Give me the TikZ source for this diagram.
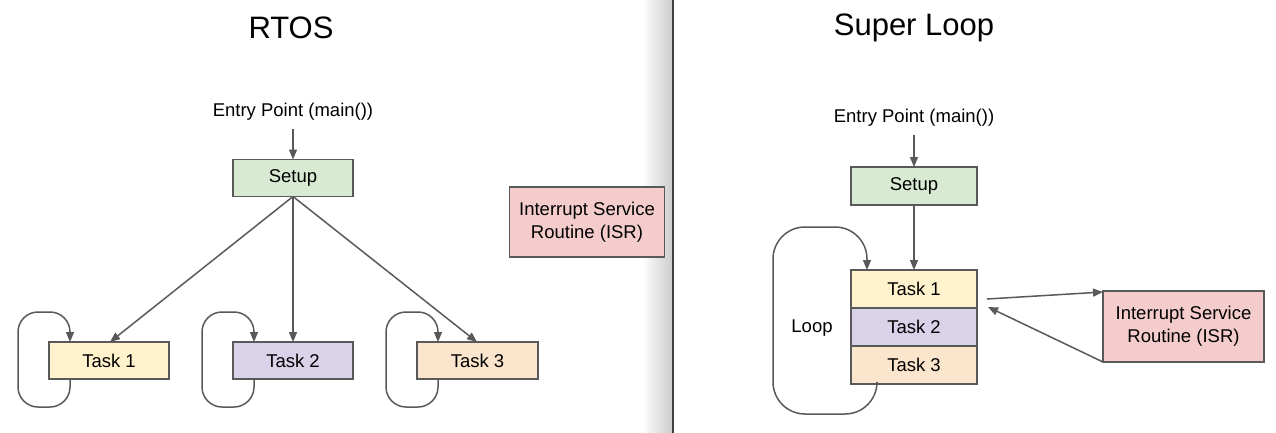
\documentclass[tikz,border=0pt]{standalone}
\usepackage{fontspec}
\setmainfont{Liberation Sans}
\usetikzlibrary{arrows.meta,calc}
\definecolor{edge}{HTML}{595959}
\definecolor{cgreen}{HTML}{D9EAD3}
\definecolor{cyellow}{HTML}{FFF2CC}
\definecolor{cpurple}{HTML}{D9D2E9}
\definecolor{corange}{HTML}{FCE5CD}
\definecolor{cpink}{HTML}{F4CCCC}
\begin{document}
\begin{tikzpicture}[x={(1pt,0)},y={(0,-1pt)},
  box/.style={draw=edge,line width=1.6pt,inner sep=0pt,outer sep=0pt,
    minimum width=120pt,minimum height=37pt,font=\fontsize{18.5}{23}\selectfont,align=center},
  plain/.style={inner sep=0pt,font=\fontsize{18.5}{23}\selectfont},
  ttl/.style={inner sep=0pt,font=\fontsize{31}{35}\selectfont},
  arr/.style={draw=edge,line width=1.5pt,-{Triangle[length=10pt,width=8pt]}},
  looparr/.style={arr,rounded corners=20pt}]
\useasboundingbox (0,0) rectangle (1276,433);
% divider with shadow
\shade[left color=white,right color=black!20] (642,0) rectangle (672,433);
\draw[line width=2pt,black!75] (673,0) -- (673,433);

% ---------- RTOS ----------
\node[ttl] (t1) at (291,28) {RTOS};
\node[plain] (e1) at (293,112) {Entry Point (main())};
\node[box,fill=cgreen] (s1) at (293,178) {Setup};
\node[box,fill=cyellow] (a1) at (109,360.5) {Task 1};
\node[box,fill=cpurple] (a2) at (293,360.5) {Task 2};
\node[box,fill=corange,minimum width=121pt] (a3) at (477.5,360.5) {Task 3};
\node[box,fill=cpink,minimum width=155pt,minimum height=70pt] (i1) at (587,222) {Interrupt Service\\Routine (ISR)};

\draw[arr] ($(e1.south)+(0,8)$) -- (s1.north);
\draw[arr] (s1.south) -- ($(a1.north west)+(61,0)$);
\draw[arr] (s1.south) -- (a2.north);
\draw[arr] (s1.south) -- ($(a3.north west)+(60,0)$);

\foreach \t in {a1,a2,a3}{
  \draw[looparr] ($(\t.south west)+(21,0)$) -- ++(0,28) -- ++(-52,0) -- ++(0,-95) -- ++(52,0) -- ($(\t.north west)+(21,0)$);
}

% ---------- Super Loop ----------
\node[ttl] (t2) at (914,28) {Super Loop};
\node[plain] (e2) at (914,118) {Entry Point (main())};
\node[box,fill=cgreen,minimum width=126pt,minimum height=38pt] (s2) at (914,186) {Setup};
\node[box,fill=cyellow,minimum width=126pt,minimum height=38pt] (r1) at (914,289) {Task 1};
\node[box,fill=cpurple,minimum width=126pt,minimum height=38pt] (r2) at (914,327) {Task 2};
\node[box,fill=corange,minimum width=126pt,minimum height=38pt] (r3) at (914,365) {Task 3};
\node[plain] (lp) at (812,328) {Loop};
\node[box,fill=cpink,minimum width=161pt,minimum height=71pt] (i2) at (1183.5,326.5) {Interrupt Service\\Routine (ISR)};

\draw[arr] ($(e2.south)+(0,8)$) -- (s2.north);
\draw[arr] (s2.south) -- (r1.north);
\draw[arr,rounded corners=32pt] ($(r3.south west)+(26,0)$) -- ++(0,30) -- (773,414) -- (773,227) -- (867,227) -- ($(r1.north west)+(16,0)$);
\coordinate (p1) at (987,299);
\coordinate (p2) at (988,307);
\draw[arr] (p1) -- ($(i2.north west)+(0,1)$);
\draw[arr] (i2.south west) -- (p2);
\end{tikzpicture}
\end{document}
